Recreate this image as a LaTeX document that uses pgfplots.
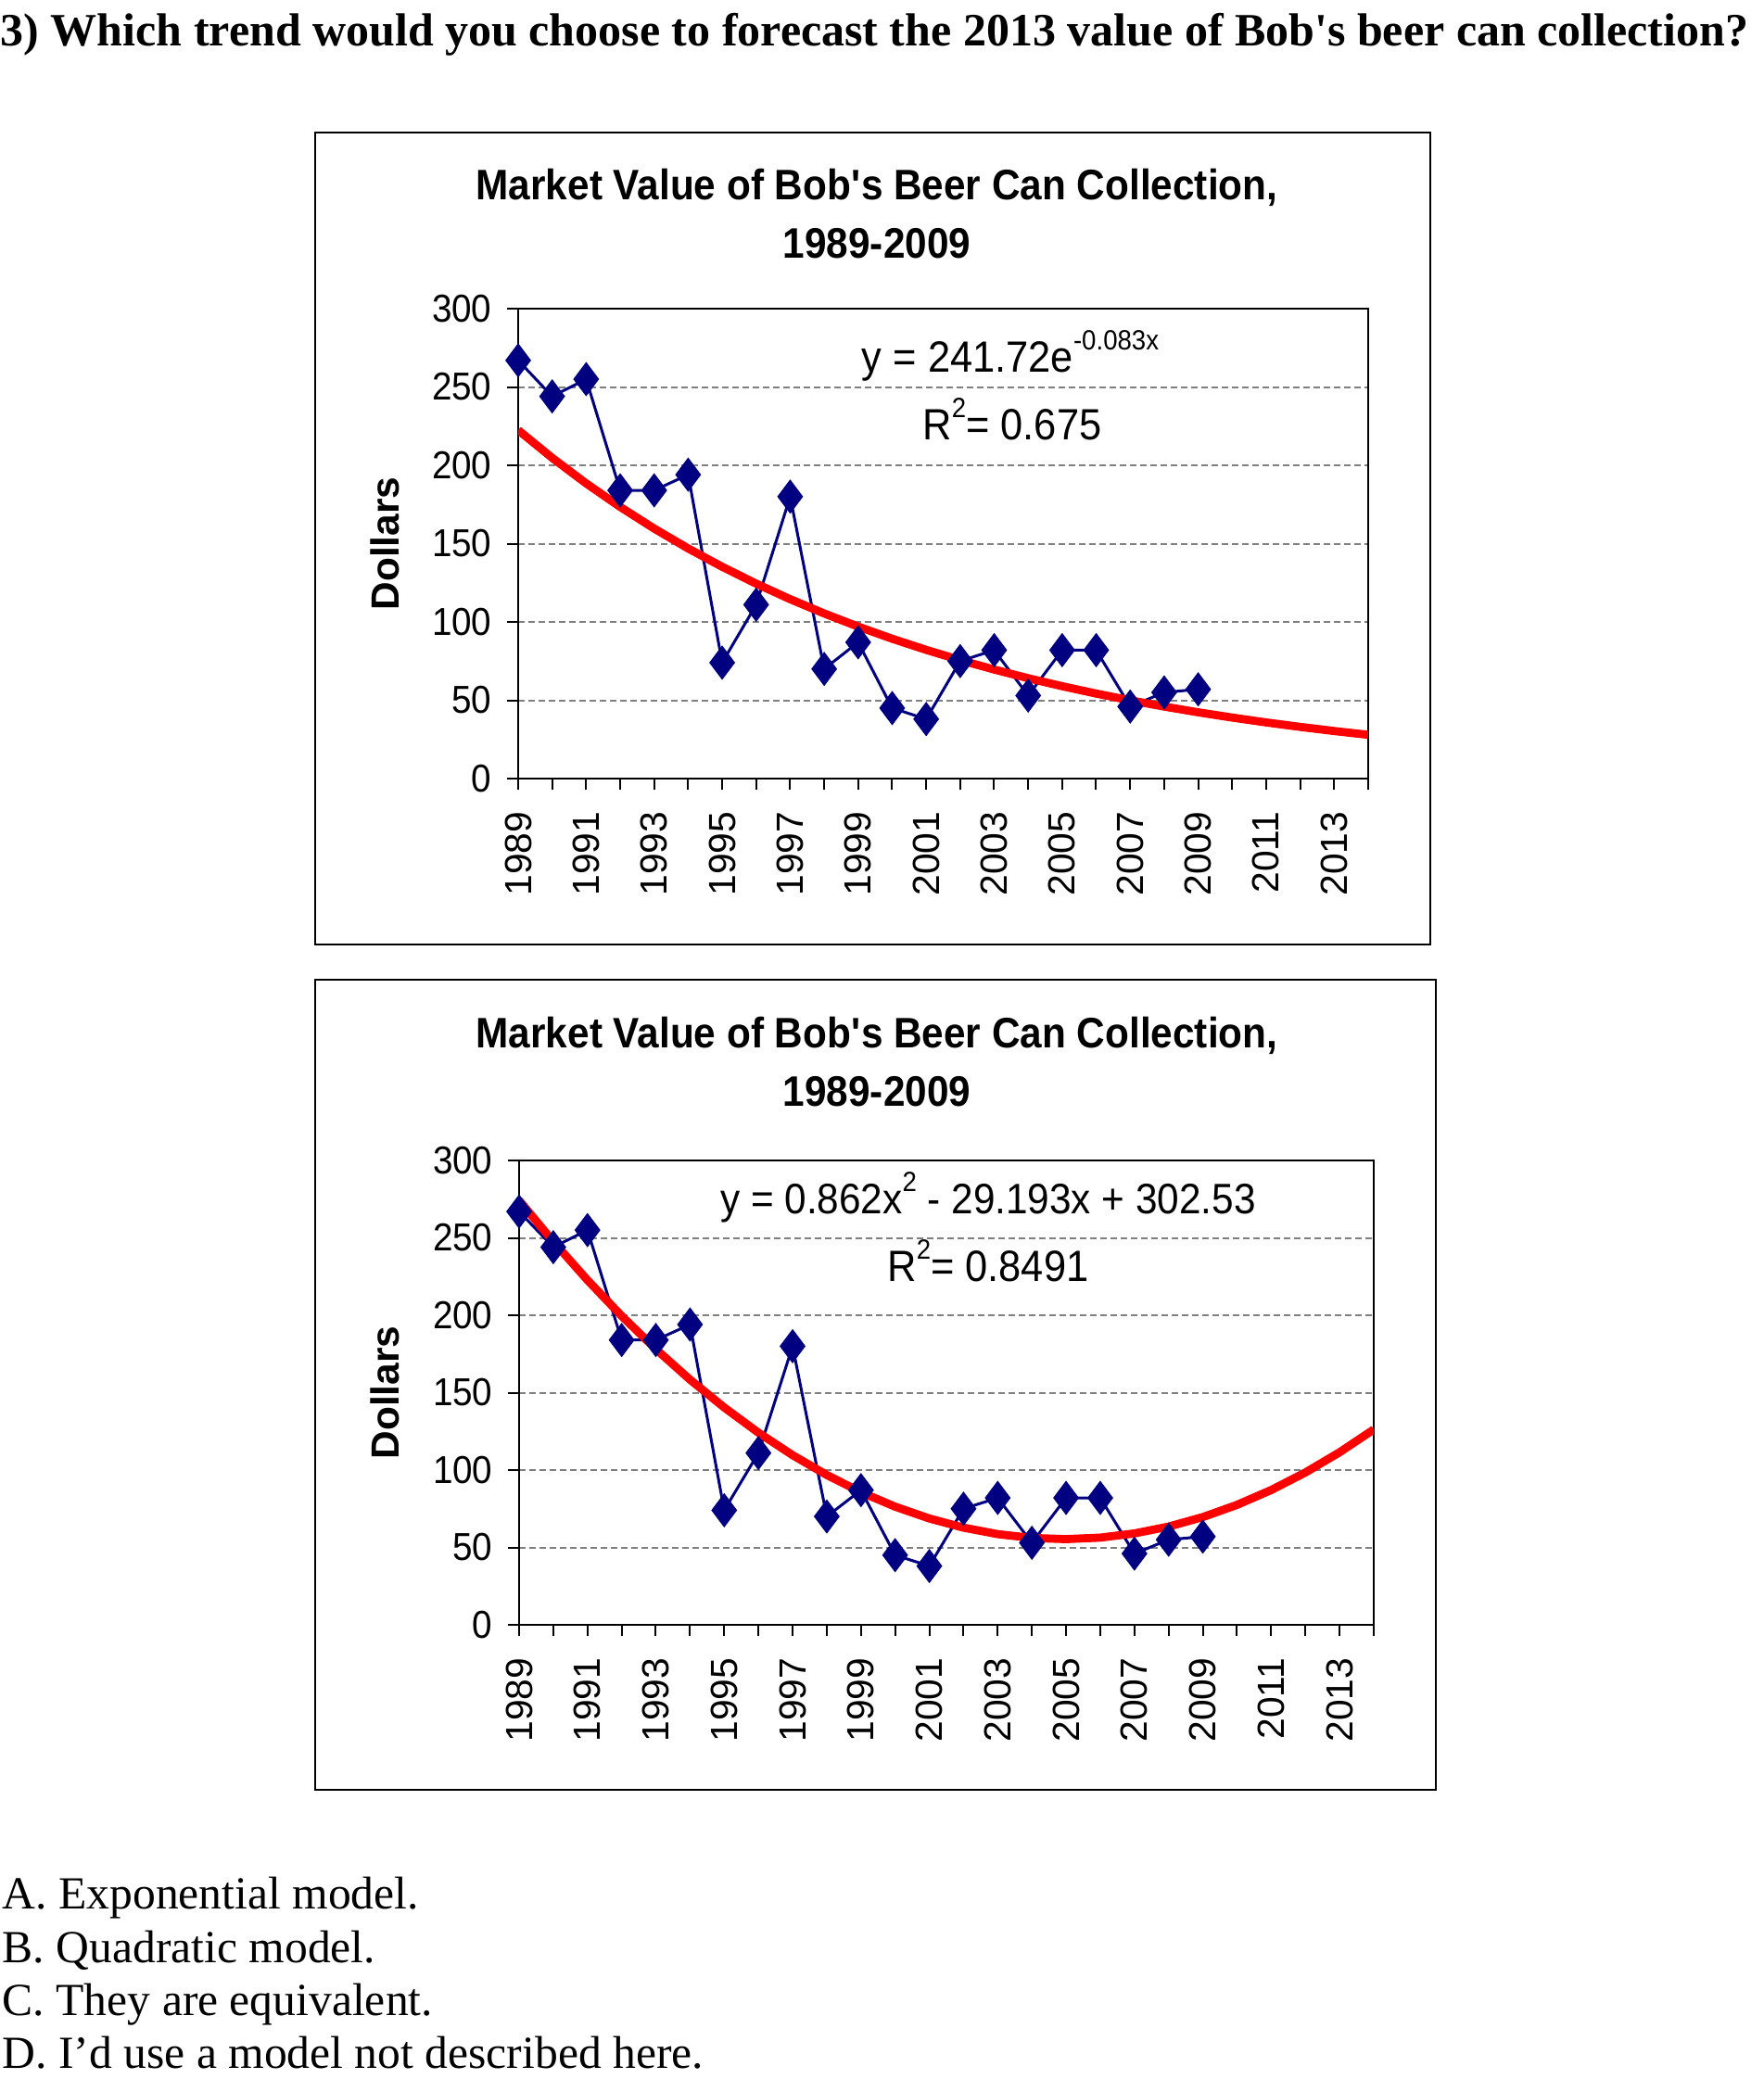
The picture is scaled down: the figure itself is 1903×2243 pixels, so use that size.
\documentclass[border=0pt]{standalone}
\usepackage{fontspec}
\setmainfont{Liberation Serif}
\newfontfamily\chartfont[FakeStretch=0.92]{Liberation Sans}
\newfontfamily\rotfont{Liberation Sans}
\usepackage{pgfplots}
\usepackage{pgfplotstable}
\pgfplotsset{compat=1.18}
\definecolor{navy}{RGB}{0,0,128}
\definecolor{gridgray}{RGB}{128,128,128}

\pgfplotstableread{
year value
1989 267
1990 244
1991 255
1992 184
1993 184
1994 194
1995 74
1996 111
1997 180
1998 70
1999 87
2000 45
2001 38
2002 75
2003 82
2004 53
2005 82
2006 82
2007 46
2008 55
2009 57
}\datatable

\pgfplotstableread{
year trend
1989 222.47
1990 204.75
1991 188.44
1992 173.43
1993 159.62
1994 146.91
1995 135.21
1996 124.44
1997 114.53
1998 105.41
1999 97.01
2000 89.28
2001 82.17
2002 75.63
2003 69.61
2004 64.07
2005 58.97
2006 54.27
2007 49.95
2008 45.97
2009 42.31
2010 38.94
2011 35.84
2012 32.99
2013 30.36
2014 27.94
}\exptable

\pgfplotstableread{
year trend
1989 274.20
1990 247.59
1991 222.71
1992 199.55
1993 178.12
1994 158.40
1995 140.42
1996 124.15
1997 109.62
1998 96.80
1999 85.71
2000 76.34
2001 68.70
2002 62.78
2003 58.59
2004 56.11
2005 55.37
2006 56.34
2007 59.05
2008 63.47
2009 69.62
2010 77.49
2011 87.09
2012 98.41
2013 111.46
2014 126.22
}\quadtable

\pgfplotsset{
  beer/.style={
    scale only axis,
    xmin=1989, xmax=2014, ymin=0, ymax=300,
    xtick={1989,...,2014},
    xticklabels={1989,,1991,,1993,,1995,,1997,,1999,,2001,,2003,,2005,,2007,,2009,,2011,,2013,},
    ytick={0,50,...,300},
    tick align=outside,
    xtick pos=bottom, ytick pos=left,
    major tick length=3pt,
    every tick/.style={black, line width=0.5pt},
    axis line style={line width=0.4pt},
    ymajorgrids,
    major grid style={gridgray, line width=0.5pt, dash pattern=on 1.75pt off 1pt},
    /pgf/number format/assume math mode=true,
    yticklabel style={font=\chartfont\fontsize{10.5}{12}\selectfont},
    yticklabel shift=0.6pt,
    xticklabel style={font=\rotfont\fontsize{10.2}{12}\selectfont, rotate=90, anchor=east},
    xticklabel shift=2.4pt,
    ylabel={Dollars},
    ylabel style={font=\rotfont\bfseries\fontsize{10.6}{12}\selectfont, at={(axis description cs:-0.157,0.5)}, anchor=center},
    after end axis/.code={\draw[line width=0.7pt] (rel axis cs:0,0) -- (rel axis cs:1,0);},
  },
  datastyle/.style={navy, line width=0.75pt, mark=diamond*, mark size=4.4pt,
    mark options={solid, fill=navy, draw=navy, line width=0.3pt}},
  trendstyle/.style={red, line width=2.2pt, no markers},
}

\begin{document}
\begin{tikzpicture}[x=0.25pt, y=0.25pt]
\path[use as bounding box] (0,0) rectangle (1903,2243);

% question
\node[anchor=base west, inner sep=0pt, font=\bfseries\fontsize{12.5}{15}\selectfont] at (0,2193)
  {3) Which trend would you choose to forecast the 2013 value of Bob\textquotesingle s beer can collection?};

% frames
\draw[line width=0.6pt] (340,2100) rectangle (1543,1224);
\draw[line width=0.6pt] (340,1186) rectangle (1549,312);

% titles
\node[anchor=base, inner sep=0pt, font=\chartfont\bfseries\fontsize{11.5}{13}\selectfont] at (946,2027)
  {Market Value of Bob\textquotesingle s Beer Can Collection,};
\node[anchor=base, inner sep=0pt, font=\chartfont\bfseries\fontsize{11.5}{13}\selectfont] at (946,1964)
  {1989-2009};
\node[anchor=base, inner sep=0pt, font=\chartfont\bfseries\fontsize{11.5}{13}\selectfont] at (946,1112)
  {Market Value of Bob\textquotesingle s Beer Can Collection,};
\node[anchor=base, inner sep=0pt, font=\chartfont\bfseries\fontsize{11.5}{13}\selectfont] at (946,1049)
  {1989-2009};

\coordinate (topsw) at (559,1403);
\coordinate (botsw) at (560,490);

\begin{axis}[beer, at={(topsw)}, anchor=south west, width=229.25pt, height=126.75pt]
  \addplot[datastyle] table[x=year, y=value] {\datatable};
  \addplot[trendstyle] table[x=year, y=trend] {\exptable};
\end{axis}

\begin{axis}[beer, at={(botsw)}, anchor=south west, width=230.5pt, height=125.25pt]
  \addplot[datastyle] table[x=year, y=value] {\datatable};
  \addplot[trendstyle] table[x=year, y=trend] {\quadtable};
\end{axis}

% equations
\node[anchor=base, inner sep=0pt, font=\chartfont\fontsize{11.8}{13}\selectfont] at (1090,1841)
  {y = 241.72e\raisebox{6pt}{\fontsize{7.5}{9}\selectfont -0.083x}};
\node[anchor=base, inner sep=0pt, font=\chartfont\fontsize{11.8}{13}\selectfont] at (1092,1768)
  {R\raisebox{6pt}{\fontsize{7.5}{9}\selectfont 2}= 0.675};
\node[anchor=base, inner sep=0pt, font=\chartfont\fontsize{11.5}{13}\selectfont] at (1066,933)
  {y = 0.862x\raisebox{6pt}{\fontsize{7.5}{9}\selectfont 2} - 29.193x + 302.53};
\node[anchor=base, inner sep=0pt, font=\chartfont\fontsize{11.8}{13}\selectfont] at (1066,860)
  {R\raisebox{6pt}{\fontsize{7.5}{9}\selectfont 2}= 0.8491};

% answers
\node[anchor=base west, inner sep=0pt, font=\fontsize{12.4}{15}\selectfont] at (2,183) {A. Exponential model.};
\node[anchor=base west, inner sep=0pt, font=\fontsize{12.4}{15}\selectfont] at (2,125) {B. Quadratic model.};
\node[anchor=base west, inner sep=0pt, font=\fontsize{12.4}{15}\selectfont] at (2,68) {C. They are equivalent.};
\node[anchor=base west, inner sep=0pt, font=\fontsize{12.4}{15}\selectfont] at (2,11) {D. I’d use a model not described here.};
\end{tikzpicture}
\end{document}
